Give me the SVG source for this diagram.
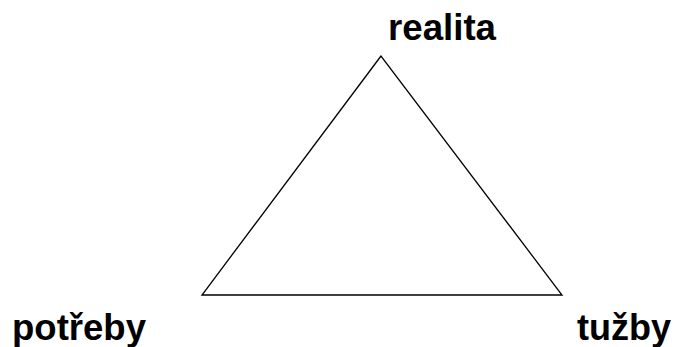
<svg xmlns="http://www.w3.org/2000/svg" width="677" height="347" viewBox="0 0 677 347">
<style>
.lbl{font-family:"Liberation Sans",Arial,sans-serif;font-weight:bold;font-size:36px;fill:#000}
.edge{fill:none;stroke:#000;stroke-width:1.3}
</style>
<rect width="677" height="347" fill="#fff"/>
<g id="connectors">
<path class="edge" d="M381,56 L202,295 L562,295 Z"/>
</g>
<g id="realita"><text class="lbl" x="388" y="40" textLength="108" lengthAdjust="spacingAndGlyphs">realita</text></g>
<g id="potreby"><text class="lbl" x="12" y="340" textLength="134" lengthAdjust="spacingAndGlyphs">potřeby</text></g>
<g id="tuzby"><text class="lbl" x="577" y="340" textLength="94" lengthAdjust="spacingAndGlyphs">tužby</text></g>
</svg>
